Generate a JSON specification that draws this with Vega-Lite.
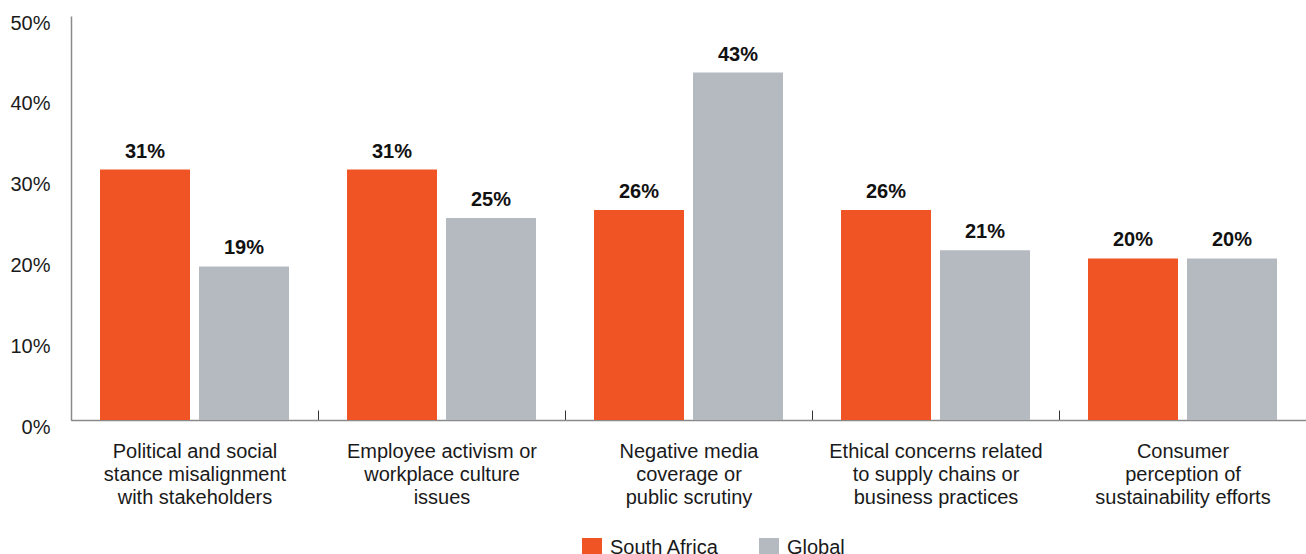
{
  "$schema": "https://vega.github.io/schema/vega-lite/v6.json",
  "autosize": {"type": "none"},
  "padding": {"left": 71, "top": 16, "right": 0, "bottom": 134},
  "width": 1235,
  "height": 404,
  "background": "white",
  "config": {
    "view": {"stroke": null},
    "font": "Liberation Sans"
  },
  "data": {
    "values": [
      {"category": "Political and social|stance misalignment|with stakeholders", "series": "South Africa", "value": 0.31},
      {"category": "Political and social|stance misalignment|with stakeholders", "series": "Global", "value": 0.19},
      {"category": "Employee activism or|workplace culture|issues", "series": "South Africa", "value": 0.31},
      {"category": "Employee activism or|workplace culture|issues", "series": "Global", "value": 0.25},
      {"category": "Negative media|coverage or|public scrutiny", "series": "South Africa", "value": 0.26},
      {"category": "Negative media|coverage or|public scrutiny", "series": "Global", "value": 0.43},
      {"category": "Ethical concerns related|to supply chains or|business practices", "series": "South Africa", "value": 0.26},
      {"category": "Ethical concerns related|to supply chains or|business practices", "series": "Global", "value": 0.21},
      {"category": "Consumer|perception of|sustainability efforts", "series": "South Africa", "value": 0.20},
      {"category": "Consumer|perception of|sustainability efforts", "series": "Global", "value": 0.20}
    ]
  },
  "encoding": {
    "x": {
      "field": "category",
      "type": "nominal",
      "sort": null,
      "scale": {"paddingInner": 0, "paddingOuter": 0},
      "axis": {
        "title": null,
        "labelAngle": 0,
        "labelExpr": "split(datum.label, '|')",
        "labelFontSize": 20,
        "labelLineHeight": 23,
        "labelColor": "#1a1a1a",
        "labelLimit": 0,
        "labelPadding": 31,
        "labelBaseline": "top",
        "tickBand": "extent",
        "tickSize": -10,
        "tickColor": "#333333",
        "tickWidth": 1,
        "domainColor": "#8a8a8a",
        "domainWidth": 1.5
      }
    },
    "xOffset": {
      "field": "series",
      "type": "nominal",
      "sort": ["South Africa", "Global"],
      "scale": {"paddingInner": 0.0909, "paddingOuter": 0.293}
    },
    "y": {
      "field": "value",
      "type": "quantitative",
      "scale": {"domain": [0, 0.5]},
      "axis": {
        "title": null,
        "values": [0, 0.1, 0.2, 0.3, 0.4, 0.5],
        "format": ".0%",
        "labelFontSize": 20,
        "labelColor": "#1a1a1a",
        "labelPadding": 21,
        "labelOffset": 7,
        "ticks": false,
        "grid": false,
        "domainColor": "#8a8a8a",
        "domainWidth": 1.5
      }
    }
  },
  "layer": [
    {
      "mark": {"type": "bar"},
      "encoding": {
        "color": {
          "field": "series",
          "type": "nominal",
          "sort": ["South Africa", "Global"],
          "scale": {"domain": ["South Africa", "Global"], "range": ["#F05424", "#B5BAC1"]},
          "legend": {
            "title": null,
            "orient": "none",
            "direction": "horizontal",
            "legendX": 511,
            "legendY": 522,
            "symbolType": "square",
            "symbolSize": 400,
            "symbolStrokeWidth": 0,
            "labelFontSize": 20,
            "labelColor": "#1a1a1a",
            "labelOffset": 8,
            "columnPadding": 40
          }
        }
      }
    },
    {
      "mark": {"type": "text", "baseline": "alphabetic", "dy": -12, "fontSize": 20, "fontWeight": "bold", "color": "#111111"},
      "encoding": {
        "text": {"field": "value", "type": "quantitative", "format": ".0%"},
        "detail": {"field": "series"}
      }
    }
  ]
}
